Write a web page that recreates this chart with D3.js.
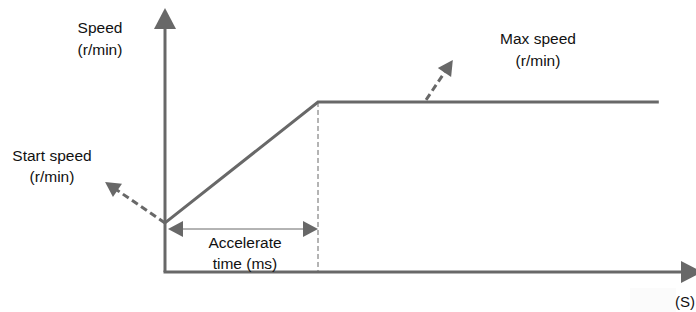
<!DOCTYPE html>
<html><head><meta charset="utf-8">
<script src="https://cdn.jsdelivr.net/npm/d3@7"></script>
<style>html,body{margin:0;padding:0;background:#fff;}svg{display:block;}</style>
</head><body>
<script>
// ---- data ----
const timePoints = [0, 28.6, 92.3];          // start, end of acceleration, end of plot
const speedPoints = [18.6, 64.4, 64.4];       // start speed, max speed, max speed
const axisLabels = ["Speed", "(r/min)"];
const timeLabel = ["(S)"];
const startLabel = ["Start speed", "(r/min)"];
const maxLabel = ["Max speed", "(r/min)"];
const accelLabel = ["Accelerate", "time (ms)"];
// callout arrows: [fromTime, fromSpeed, toTime, toSpeed]
const startCallout = [0, 18.6, -11.2, 34.1];
const maxCallout = [48.8, 65.2, 53.8, 80.3];

const W = 696, H = 312;
const x = d3.scaleLinear().domain([0, 100]).range([165, 700]);
const y = d3.scaleLinear().domain([0, 100]).range([272, 8]);
const grey = "#686868";
const font = "'Liberation Sans', Arial, sans-serif";
const fs = 15.5;

const svg = d3.select("body").append("svg").attr("width", W).attr("height", H);

// faint box behind (S)
svg.append("rect").attr("x", 630).attr("y", 288).attr("width", 46).attr("height", 24).attr("fill", "#fbfbfb");

function arrowHead(tx, ty, angle, len, half) {
  const bx = tx - len * Math.cos(angle), by = ty - len * Math.sin(angle);
  const px = -Math.sin(angle) * half, py = Math.cos(angle) * half;
  return `M${tx},${ty}L${bx + px},${by + py}L${bx - px},${by - py}Z`;
}

// axes
svg.append("line").attr("x1", x(0)).attr("y1", y(0)).attr("x2", x(0)).attr("y2", y(100) + 18)
  .attr("stroke", grey).attr("stroke-width", 3);
svg.append("path").attr("d", arrowHead(x(0), y(100), -Math.PI / 2, 21, 11)).attr("fill", grey);
svg.append("line").attr("x1", x(0) - 1.5).attr("y1", y(0)).attr("x2", x(100) - 18).attr("y2", y(0))
  .attr("stroke", grey).attr("stroke-width", 3);
svg.append("path").attr("d", arrowHead(x(100) + 2, y(0), 0, 21, 11)).attr("fill", grey);

// dashed vertical at end of acceleration
svg.append("line").attr("x1", x(timePoints[1])).attr("x2", x(timePoints[1]))
  .attr("y1", y(speedPoints[1])).attr("y2", y(0))
  .attr("stroke", grey).attr("stroke-width", 1).attr("stroke-dasharray", "5,3");

// speed profile
const line = d3.line().x((d, i) => x(timePoints[i])).y((d, i) => y(speedPoints[i]));
svg.append("path").datum(timePoints).attr("d", line).attr("fill", "none")
  .attr("stroke", grey).attr("stroke-width", 3);

// double arrow for acceleration time
const ay = 229;
const ax1 = x(timePoints[0]) + 3, ax2 = x(timePoints[1]);
svg.append("line").attr("x1", ax1 + 10).attr("x2", ax2 - 10).attr("y1", ay).attr("y2", ay)
  .attr("stroke", grey).attr("stroke-width", 1);
svg.append("path").attr("d", arrowHead(ax1, ay, Math.PI, 15, 8)).attr("fill", grey);
svg.append("path").attr("d", arrowHead(ax2, ay, 0, 15, 8)).attr("fill", grey);

// dashed callouts
function callout(c) {
  const x1 = x(c[0]), y1 = y(c[1]), x2 = x(c[2]), y2 = y(c[3]);
  const ang = Math.atan2(y2 - y1, x2 - x1);
  const len = 15;
  svg.append("line").attr("x1", x1).attr("y1", y1)
    .attr("x2", x2 - (len - 2) * Math.cos(ang)).attr("y2", y2 - (len - 2) * Math.sin(ang))
    .attr("stroke", grey).attr("stroke-width", 3).attr("stroke-dasharray", "7,4");
  svg.append("path").attr("d", arrowHead(x2, y2, ang, len, 8)).attr("fill", grey);
}
callout(startCallout);
callout(maxCallout);

// text
function label(lines, cx, by, gap) {
  const t = svg.append("text").attr("font-family", font).attr("font-size", fs).attr("fill", "#111")
    .attr("text-anchor", "middle");
  lines.forEach((s, i) => t.append("tspan").attr("x", cx).attr("y", by + i * gap).text(s));
}
label(axisLabels, 100, 33, 21.5);
label(startLabel, 52, 161, 21);
label(maxLabel, 538, 44, 21.5);
label(accelLabel, 245, 248, 21);
svg.append("text").attr("font-family", font).attr("font-size", 15).attr("fill", "#111")
  .attr("text-anchor", "end").attr("x", 695).attr("y", 307).text(timeLabel[0]);
</script>
</body></html>
